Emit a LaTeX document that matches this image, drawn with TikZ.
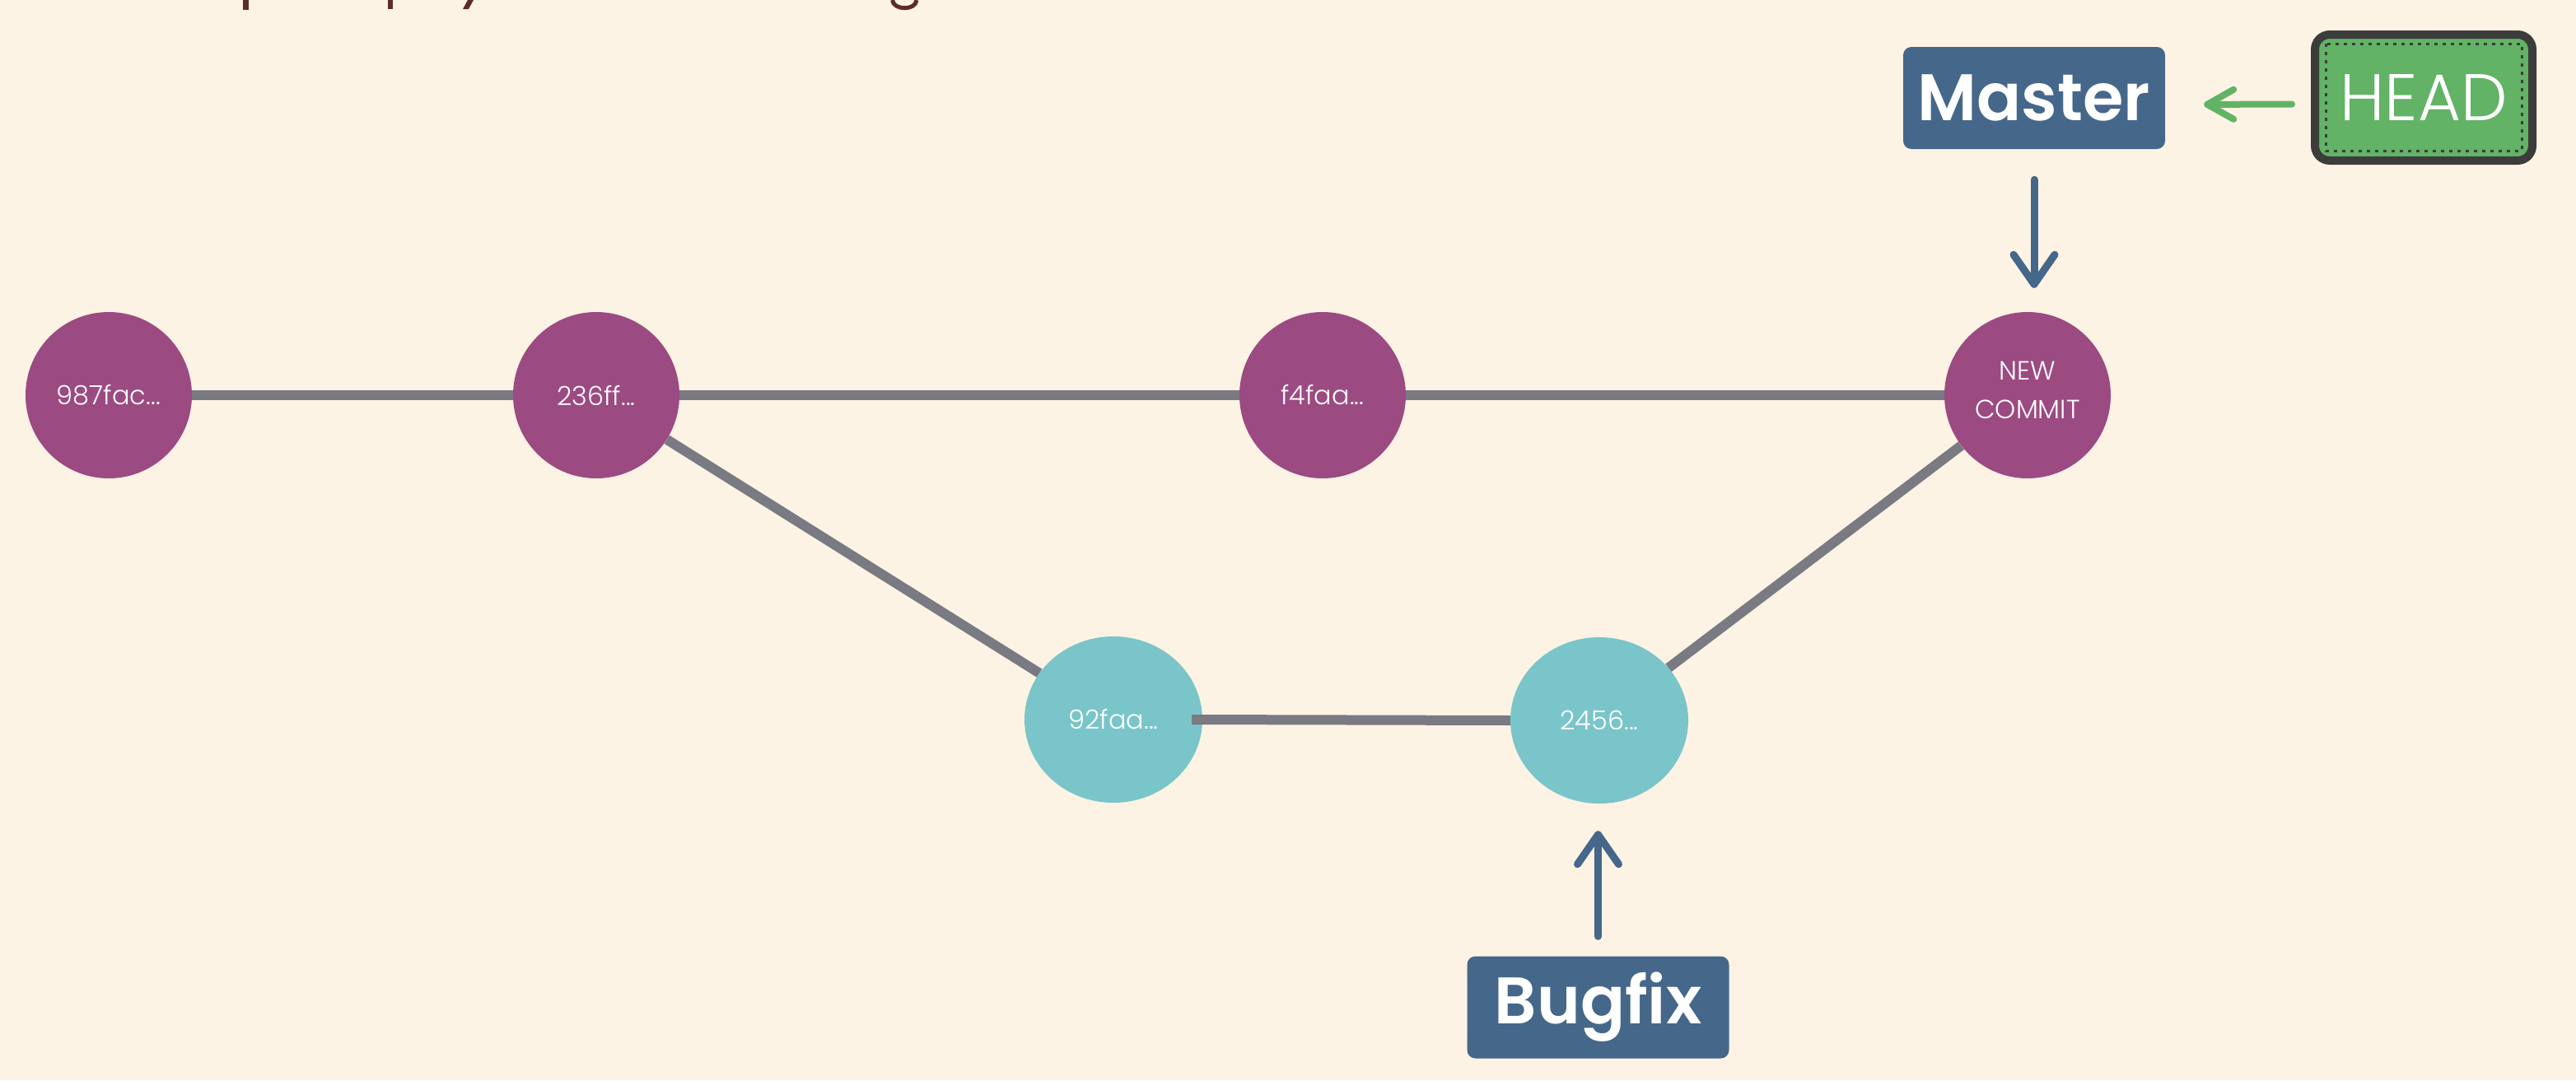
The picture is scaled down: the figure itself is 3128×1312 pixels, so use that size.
\documentclass[tikz,border=0pt]{standalone}
\usepackage{fontspec}
\setmainfont{Poppins}
\newfontfamily\lightfont{Poppins Light}
\newfontfamily\semifont{Poppins SemiBold}
\usetikzlibrary{arrows.meta,shapes.geometric}
\definecolor{bgc}{HTML}{FDF3E4}
\definecolor{purplec}{HTML}{9C4A82}
\definecolor{cyanc}{HTML}{7AC5C9}
\definecolor{edgec}{HTML}{797A82}
\definecolor{bluec}{HTML}{45678A}
\definecolor{greenc}{HTML}{62B366}
\definecolor{darkc}{HTML}{3C3C3C}
\definecolor{titlec}{HTML}{5E2B2B}
\pgfdeclarelayer{bgfill}
\pgfdeclarelayer{edges}
\pgfsetlayers{bgfill,edges,main}
\tikzset{
  commit/.style={circle, fill=purplec, minimum size=202pt, inner sep=0pt, text=white,
    align=center, font=\lightfont\fontsize{32}{47}\selectfont},
  bugcommit/.style={ellipse, fill=cyanc, minimum width=216pt, minimum height=202pt,
    inner sep=0pt, text=white, font=\lightfont\fontsize{32}{47}\selectfont},
  branch/.style={rectangle, rounded corners=10pt, fill=bluec, minimum width=318pt,
    minimum height=124pt, inner sep=0pt, text=white, font=\semifont\fontsize{80}{80}\selectfont},
  headbox/.style={rectangle, rounded corners=18pt, fill=greenc, draw=darkc, line width=10pt,
    minimum width=264pt, minimum height=153pt, inner sep=0pt, text=white,
    font=\lightfont\fontsize{80}{80}\selectfont},
  edge/.style={draw=edgec, line width=12pt},
  ptr/.style={draw=bluec, line width=9pt, line cap=round,
    -{Straight Barb[length=36pt, width=50pt, round]}},
  headptr/.style={draw=greenc, line width=8pt, line cap=round,
    -{Straight Barb[length=32pt, width=36pt, round]}},
}
\begin{document}
\begin{tikzpicture}[x=1pt,y=-1pt]
\begin{pgfonlayer}{bgfill}
\fill[bgc] (0,0) rectangle (3128,1312);
\end{pgfonlayer}
\useasboundingbox (0,0) rectangle (3128,1312);
% cut-off title descenders
\fill[titlec] (295,0) rectangle (302,12);
\fill[titlec] (471,0) rectangle (477,11);
\fill[titlec] (568,0) -- (575,0) -- (569,11) -- (562,11) -- cycle;
\draw[titlec, line width=5pt] (1083.5,0) .. controls (1085,13) and (1112,13) .. (1113,0);
% commits
\node[commit] (c987) at (132,480) {987fac...};
\node[commit] (c236) at (724,480) {236ff...};
\node[commit] (cf4) at (1606,480) {f4faa...};
\node[commit, text depth=12pt] (cnew) at (2462,480) {NEW\\COMMIT};
\node[bugcommit] (c92) at (1352,874) {92faa...};
\node[bugcommit] (c2456) at (1942,875) {2456...};
% branches
\node[branch] (master) at (2470,119) {Master};
\node[branch] (bugfix) at (1940.5,1223.5) {Bugfix};
\node[headbox] (head) at (2943,118.5) {HEAD};
\draw[darkc, line width=3pt, dash pattern=on 4pt off 6pt]
  ([xshift=18pt,yshift=-16pt]head.north west) rectangle ([xshift=-18pt,yshift=17pt]head.south east);
% edges
\begin{pgfonlayer}{edges}
\path[edge] (c987) -- (c236);
\path[edge] (c236) -- (cf4);
\path[edge] (cf4) -- (cnew);
\path[edge] (c236) -- (c92);
\path[edge] (c2456) -- (cnew);
\end{pgfonlayer}
\path[edge] ([xshift=-13pt]c92.east) -- (c2456.west);
% pointers
\path[ptr, shorten <=37pt, shorten >=29pt] (master.south) -- (master.south |- cnew.north);
\path[ptr, shorten <=24pt, shorten >=33pt] (bugfix.north) -- (bugfix.north |- c2456.south);
\path[headptr, shorten <=23pt, shorten >=47pt] ([yshift=-8pt]head.west) -- ([yshift=-8pt]master.east);
\end{tikzpicture}
\end{document}
